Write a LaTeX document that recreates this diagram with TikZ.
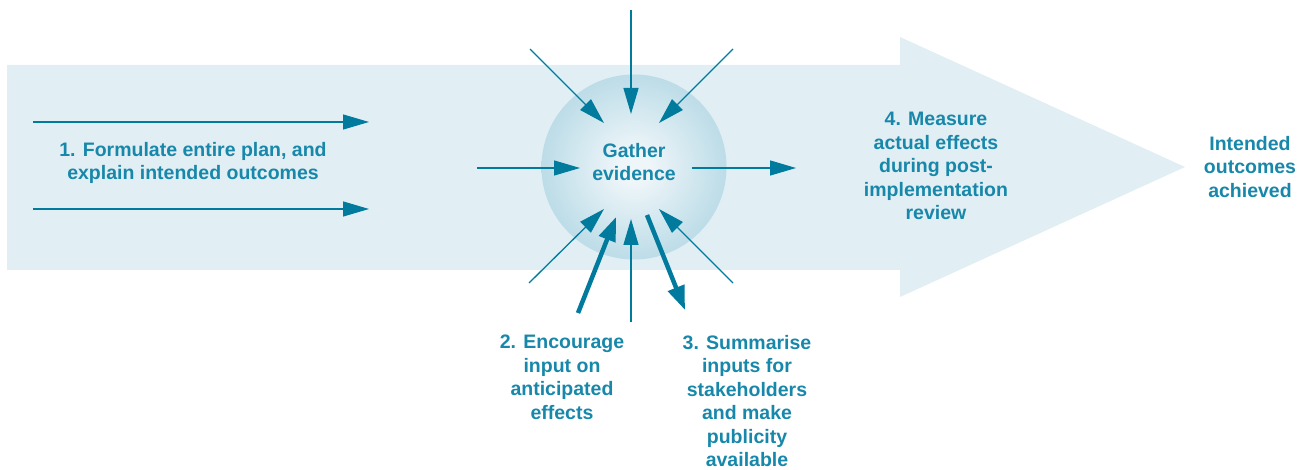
\documentclass[tikz,border=0pt]{standalone}
\usepackage{fontspec}
\setmainfont{Liberation Sans}
\usetikzlibrary{arrows.meta}
\definecolor{bandcol}{HTML}{E1EEF4}
\definecolor{arrcol}{HTML}{007B9E}
\definecolor{txtcol}{HTML}{1787AA}
\definecolor{ballin}{HTML}{EFF6F9}
\definecolor{ballout}{HTML}{A4D0DF}
\pgfdeclareradialshading{ball}{\pgfpoint{0bp}{0bp}}{color(0bp)=(ballin); color(4bp)=(ballin); color(35bp)=(ballout); color(50bp)=(ballout)}
\tikzset{
  lbl/.style={text=txtcol, font=\fontsize{19.5}{23.5}\selectfont\bfseries, align=center, inner sep=0pt},
  thin arr/.style={draw=arrcol, line width=1.3pt, -{Triangle[length=26pt,width=15pt]}},
  thick arr/.style={draw=arrcol, line width=4.5pt, -{Triangle[length=24pt,width=17pt]}},
}
\begin{document}
\begin{tikzpicture}[x=1pt,y=-1pt]
\useasboundingbox (0,0) rectangle (1310,470);
% big arrow
\fill[bandcol] (7,65) -- (900,65) -- (900,37) -- (1185,167) -- (900,297) -- (900,270) -- (7,270) -- cycle;
% ball
\node[circle, minimum size=185pt, inner sep=0pt, shading=ball] (ge) at (634,167) {};
\node[lbl] (getxt) at (634,162) {Gather\\evidence};
% coordinates
\coordinate (l1s) at (33,122); \coordinate (l1e) at (369,122);
\coordinate (l2s) at (33,209); \coordinate (l2e) at (369,209);
\coordinate (ins) at (477,168); \coordinate (ine) at (580,168);
\coordinate (outs) at (692,168); \coordinate (oute) at (796,168);
\coordinate (ts) at (631,10); \coordinate (te) at (631,114);
\coordinate (tls) at (530,49); \coordinate (tle) at (604,123);
\coordinate (trs) at (733,49); \coordinate (tre) at (659,123);
\coordinate (bls) at (529,283); \coordinate (ble) at (604,209);
\coordinate (brs) at (733,283); \coordinate (bre) at (659,209);
\coordinate (bs) at (631,322); \coordinate (be) at (631,219);
\coordinate (tus) at (578,313); \coordinate (tue) at (616,217);
\coordinate (tds) at (647,215); \coordinate (tde) at (685,310);
% arrows
\draw[thin arr] (l1s) -- (l1e);
\draw[thin arr] (l2s) -- (l2e);
\draw[thin arr] (ins) -- (ine);
\draw[thin arr] (outs) -- (oute);
\draw[thin arr] (ts) -- (te);
\draw[thin arr] (tls) -- (tle);
\draw[thin arr] (trs) -- (tre);
\draw[thin arr] (bls) -- (ble);
\draw[thin arr] (brs) -- (bre);
\draw[thin arr] (bs) -- (be);
\draw[thick arr] (tus) -- (tue);
\draw[thick arr] (tds) -- (tde);
% labels
\node[lbl] (s1) at (193,163) {1. Formulate entire plan, and\\explain intended outcomes};
\node[lbl] (s4) at (936,166) {4. Measure\\actual effects\\during post-\\implementation\\review};
\node[lbl] (io) at (1250,167) {Intended\\outcomes\\achieved};
\node[lbl, anchor=north] (s2) at (562,335) {2. Encourage\\input on\\anticipated\\effects};
\node[lbl, anchor=north] (s3) at (747,335) {3. Summarise\\inputs for\\stakeholders\\and make\\publicity\\available};
\end{tikzpicture}
\end{document}
